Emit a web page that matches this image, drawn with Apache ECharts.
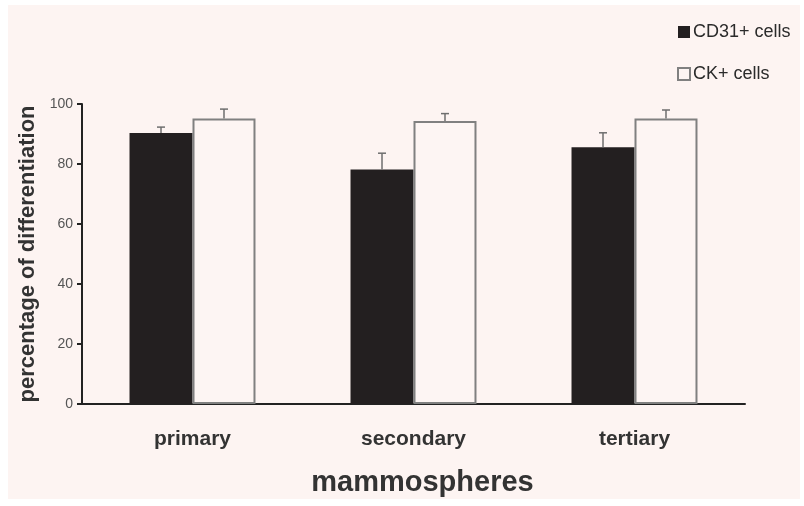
<!DOCTYPE html>
<html style="height: 100%">
   <head>
       <meta charset="utf-8">
   </head>
   <body style="height: 100%; margin: 0; background: #fff">
       <div id="panel" style="position: absolute; left: 8px; top: 5px; width: 792px; height: 494px; background: #fdf4f2"></div>
       <div id="container" style="position: absolute; left: 0; top: 0; width: 804px; height: 506px"></div>
       <script type="text/javascript" src="https://cdn.jsdelivr.net/npm/echarts@6/dist/echarts.min.js"></script>
       <script type="text/javascript">
var categories = ['primary', 'secondary', 'tertiary'];
var cd31Values = [90.3, 78.2, 85.6];
var cd31Errors = [2.0, 5.4, 4.8];
var ckValues = [95.2, 94.3, 95.2];
var ckErrors = [3.1, 2.5, 2.8];

var barPart = 0.285;
var dom = document.getElementById("container");
var myChart = echarts.init(dom);
var option = null;

// upward-only error bars, side = -1 left bar, +1 right bar
var errorData = function (values, errors) {
    var res = [];
    for (var i = 0; i < values.length; i++) {
        res.push([i, values[i], values[i] + errors[i]]);
    }
    return res;
};

var renderError = function (side) {
    return function (params, api) {
        var band = api.size([1, 0])[0];
        var dx = side * band * barPart / 2;
        var base = api.coord([api.value(0), api.value(1)]);
        var top = api.coord([api.value(0), api.value(2)]);
        var x = base[0] + dx;
        var style = {stroke: '#6e6e6e', lineWidth: 1.5};
        return {
            type: 'group',
            children: [
                {type: 'line', shape: {x1: x, y1: base[1], x2: x, y2: top[1]}, style: style},
                {type: 'line', shape: {x1: x - 4, y1: top[1], x2: x + 4, y2: top[1]}, style: style}
            ]
        };
    };
};

option = {
    backgroundColor: 'transparent',
    animation: false,
    grid: {left: 82, right: 59, top: 104, bottom: 102, outerBoundsMode: 'none'},
    legend: {
        orient: 'vertical',
        left: 672,
        top: 18,
        itemWidth: 12,
        itemHeight: 12,
        itemGap: 24,
        icon: 'rect',
        data: ['CD31+ cells', 'CK+ cells'],
        textStyle: {fontFamily: 'Liberation Sans', fontSize: 18, color: '#2b2b2b', padding: [0, 0, 0, -2]}
    },
    xAxis: {
        type: 'category',
        data: categories,
        name: 'mammospheres',
        nameLocation: 'middle',
        nameGap: 64,
        nameTextStyle: {fontFamily: 'Liberation Sans', fontWeight: 'bold', fontSize: 29, color: '#333', padding: [0, 0, 0, 18]},
        axisLine: {lineStyle: {color: '#222', width: 2}},
        axisTick: {length: 4, lineStyle: {color: '#222', width: 2}},
        axisLabel: {margin: 25, fontFamily: 'Liberation Sans', fontWeight: 'bold', fontSize: 21, color: '#333'}
    },
    yAxis: {
        type: 'value',
        min: 0,
        max: 100,
        interval: 20,
        name: 'percentage of differentiation',
        nameLocation: 'middle',
        nameGap: 35,
        nameTextStyle: {fontFamily: 'Liberation Sans', fontWeight: 'bold', fontSize: 22, color: '#333'},
        splitLine: {show: false},
        axisLine: {show: true, lineStyle: {color: '#222', width: 2}},
        axisTick: {show: true, length: 5, lineStyle: {color: '#222', width: 2}},
        axisLabel: {margin: 9, fontFamily: 'Liberation Sans', fontSize: 14, color: '#555'}
    },
    series: [
        {
            name: 'CD31+ cells',
            type: 'bar',
            data: cd31Values,
            barWidth: (barPart * 100) + '%',
            barGap: '0%',
            itemStyle: {color: '#231f20'}
        },
        {
            name: 'CK+ cells',
            type: 'bar',
            data: ckValues,
            barWidth: (barPart * 100) + '%',
            barGap: '0%',
            itemStyle: {color: '#fdf5f3', borderColor: '#808080', borderWidth: 2}
        },
        {
            type: 'custom',
            data: errorData(cd31Values, cd31Errors),
            renderItem: renderError(-1),
            z: 5
        },
        {
            type: 'custom',
            data: errorData(ckValues, ckErrors),
            renderItem: renderError(1),
            z: 5
        }
    ]
};
if (option && typeof option === "object") {
    myChart.setOption(option, true);
}
       </script>
   </body>
</html>
